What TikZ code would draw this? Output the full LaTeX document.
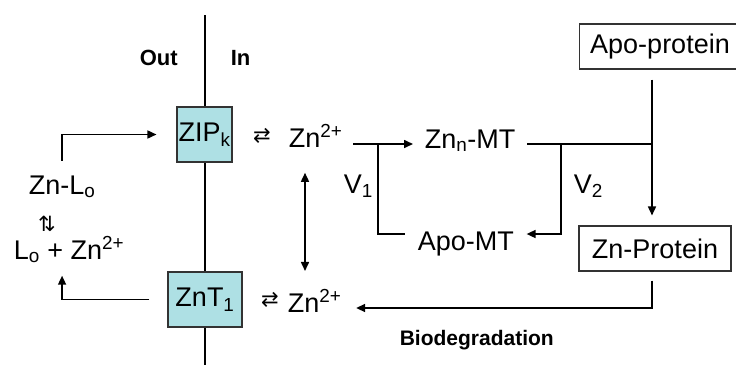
\documentclass[tikz,border=0pt]{standalone}
\usepackage{fontspec}
\setmainfont{Liberation Sans}
\newfontfamily\symfont{DejaVu Sans}
\usetikzlibrary{arrows.meta}
\definecolor{pumpfill}{RGB}{174,224,228}

\begin{document}
\begin{tikzpicture}[x=1pt, y=-1pt, line width=1.6pt,
    txt/.style={font=\fontsize{27}{30}\selectfont, inner sep=0pt, anchor=base west},
    bold/.style={font=\fontsize{22}{26}\selectfont\bfseries, inner sep=0pt, anchor=base west},
    pump/.style={draw=black!80, line width=1.1pt, fill=pumpfill, inner sep=0pt,
                 minimum height=55pt, font=\fontsize{27}{30}\selectfont},
    pbox/.style={draw=black!80, line width=1.1pt, inner sep=0pt,
                 minimum height=45pt, font=\fontsize{27}{30}\selectfont},
    eqm/.style={font=\symfont\fontsize{21}{22}\selectfont, inner sep=0pt},
    arr/.style={-{Triangle[length=9pt,width=8pt]}}]

    \useasboundingbox (0,0) rectangle (736,365);

    % Membrane
    \draw (205,15) -- (205,365);
    \node[bold] (outs) at (139,65) {Out};
    \node[bold] (ins) at (230,65) {In};

    % Transporters
    \node[pump, minimum width=55pt] (zip) at (204.5,134.5) {ZIP\textsubscript{k}};
    \node[pump, minimum width=74pt] (znt) at (205,299.5) {ZnT\textsubscript{1}};

    % Outside species
    \node[txt] (znlo) at (28,194) {Zn-L\textsubscript{o}};
    \node[eqm] (eqv) at (47,224) {⇅};
    \node[txt] (lozn) at (13,259) {L\textsubscript{o} + Zn\textsuperscript{2+}};

    % Inside species
    \node[eqm] (eqtop) at (262,136) {⇄};
    \node[txt] (zntop) at (288,147) {Zn\textsuperscript{2+}};
    \node[eqm] (eqbot) at (270,300) {⇄};
    \node[txt] (znbot) at (287,312) {Zn\textsuperscript{2+}};
    \node[txt] (znmt) at (424,148) {Zn\textsubscript{n}-MT};
    \node[txt] (apomt) at (417,250) {Apo-MT};
    \node[txt] (vone) at (343,193) {V\textsubscript{1}};
    \node[txt] (vtwo) at (573,193) {V\textsubscript{2}};
    \node[pbox, minimum width=161pt] (apo) at (660,46.5) {Apo-protein};
    \node[pbox, minimum width=152pt] (znprot) at (655,248.5) {Zn-Protein};
    \node[bold, font=\fontsize{21}{24}\selectfont\bfseries] (bio) at (399,345) {Biodegradation};

    % Junctions
    \coordinate (j1) at (378,144);
    \coordinate (jv1) at (378,234);
    \coordinate (j2) at (561,144);
    \coordinate (jv2) at (561,234);
    \coordinate (junc) at (652,144);
    \coordinate (jb) at (652,308);
    \coordinate (dv) at (305,200);

    % Uptake and efflux
    \draw[arr, shorten <=14pt, shorten >=20pt] (znlo.north) |- (zip.west);
    \draw[arr, shorten <=18pt, shorten >=12pt] (znt.west) -| (lozn.south -| znlo.north);
    \draw[{Triangle[length=9pt,width=8pt]}-{Triangle[length=9pt,width=8pt]},
          shorten <=25pt, shorten >=18pt] (zntop.south -| dv) -- (znbot.north -| dv);

    % MT buffering
    \draw[arr, shorten <=10pt, shorten >=11pt] (zntop.east |- j1) -- (znmt.west |- j1);
    \draw[shorten >=12pt] (j1) -- (jv1) -- (apomt.west |- jv1);
    \draw[shorten <=11pt] (znmt.east |- junc) -- (junc);
    \draw[arr, shorten >=12pt] (j2) -- (jv2) -- (apomt.east |- jv2);

    % Protein metallation and turnover
    \draw[arr, shorten <=10pt, shorten >=10pt] (apo.south -| junc) -- (znprot.north -| junc);
    \draw[arr, shorten <=9pt, shorten >=14pt] (znprot.south -| jb) -- (jb) -- (znbot.east |- jb);
\end{tikzpicture}
\end{document}
